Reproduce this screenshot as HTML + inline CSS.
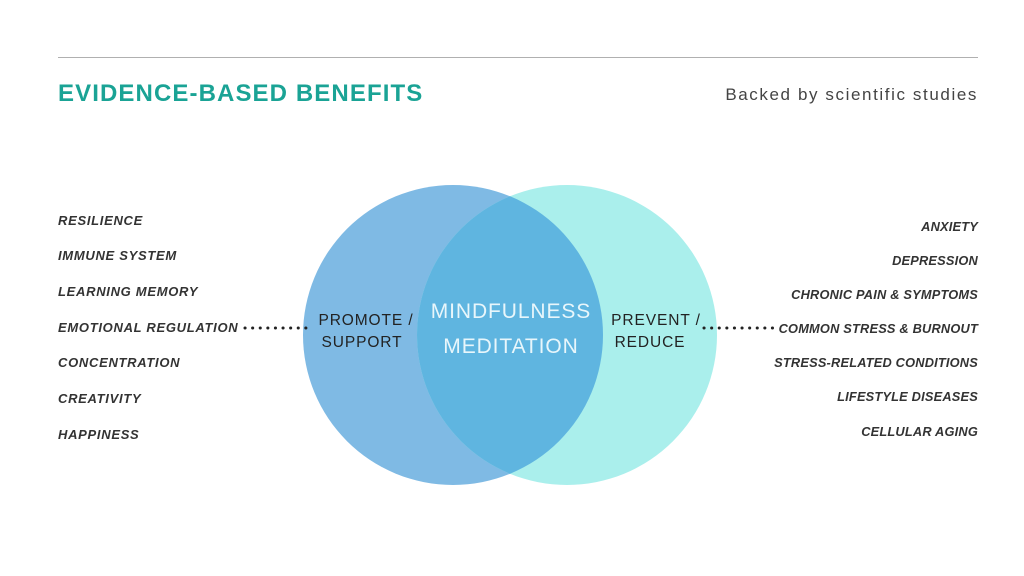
<!DOCTYPE html>
<html><head><style>
body{margin:0;width:1024px;height:576px;background:#fff;position:relative;overflow:hidden;font-family:"Liberation Sans",sans-serif}
.t{position:absolute;font-style:italic;font-weight:bold;font-size:13px;letter-spacing:0.7px;color:#333;white-space:nowrap}
.l{left:58px}.r{right:46px;text-align:right;letter-spacing:0.2px;font-size:12.8px}
</style></head><body>
<div style="position:absolute;left:58px;top:57px;width:920px;height:1px;background:#b0b0b0"></div>
<div style="position:absolute;left:58px;top:80px;font-size:24px;font-weight:bold;color:#1aa395;letter-spacing:1.1px">EVIDENCE-BASED BENEFITS</div>
<div style="position:absolute;right:46px;top:85px;font-size:17px;color:#444;letter-spacing:1.6px">Backed by scientific studies</div>
<svg width="1024" height="576" style="position:absolute;left:0;top:0">
<defs><clipPath id="c"><circle cx="453" cy="335" r="150"/></clipPath></defs>
<circle cx="453" cy="335" r="150" fill="#7fbae4"/>
<circle cx="567" cy="335" r="150" fill="#aaefec"/>
<circle cx="567" cy="335" r="150" fill="#5fb5e0" clip-path="url(#c)"/>
<line x1="245" y1="328" x2="313" y2="328" stroke="#222" stroke-width="3" stroke-dasharray="0.1 7.5" stroke-linecap="round"/>
<line x1="704" y1="328" x2="774" y2="328" stroke="#222" stroke-width="3" stroke-dasharray="0.1 7.5" stroke-linecap="round"/>
<g font-family="Liberation Sans,sans-serif" font-size="15.5" fill="#222" text-anchor="middle" letter-spacing="0.9">
<text x="366" y="325">PROMOTE /</text><text x="362" y="347">SUPPORT</text>
<text x="656" y="325">PREVENT /</text><text x="650" y="347">REDUCE</text>
</g>
<g font-family="Liberation Sans,sans-serif" font-size="21" fill="#e8f6fb" text-anchor="middle" letter-spacing="0.9">
<text x="511" y="318">MINDFULNESS</text><text x="511" y="353">MEDITATION</text>
</g>
</svg>
<div class="t l" style="top:213px">RESILIENCE</div>
<div class="t l" style="top:248px">IMMUNE SYSTEM</div>
<div class="t l" style="top:284px">LEARNING MEMORY</div>
<div class="t l" style="top:320px">EMOTIONAL REGULATION</div>
<div class="t l" style="top:355px">CONCENTRATION</div>
<div class="t l" style="top:391px">CREATIVITY</div>
<div class="t l" style="top:427px">HAPPINESS</div>
<div class="t r" style="top:219px">ANXIETY</div>
<div class="t r" style="top:253px">DEPRESSION</div>
<div class="t r" style="top:287px">CHRONIC PAIN &amp; SYMPTOMS</div>
<div class="t r" style="top:321px">COMMON STRESS &amp; BURNOUT</div>
<div class="t r" style="top:355px">STRESS-RELATED CONDITIONS</div>
<div class="t r" style="top:389px">LIFESTYLE DISEASES</div>
<div class="t r" style="top:424px">CELLULAR AGING</div>
</body></html>
